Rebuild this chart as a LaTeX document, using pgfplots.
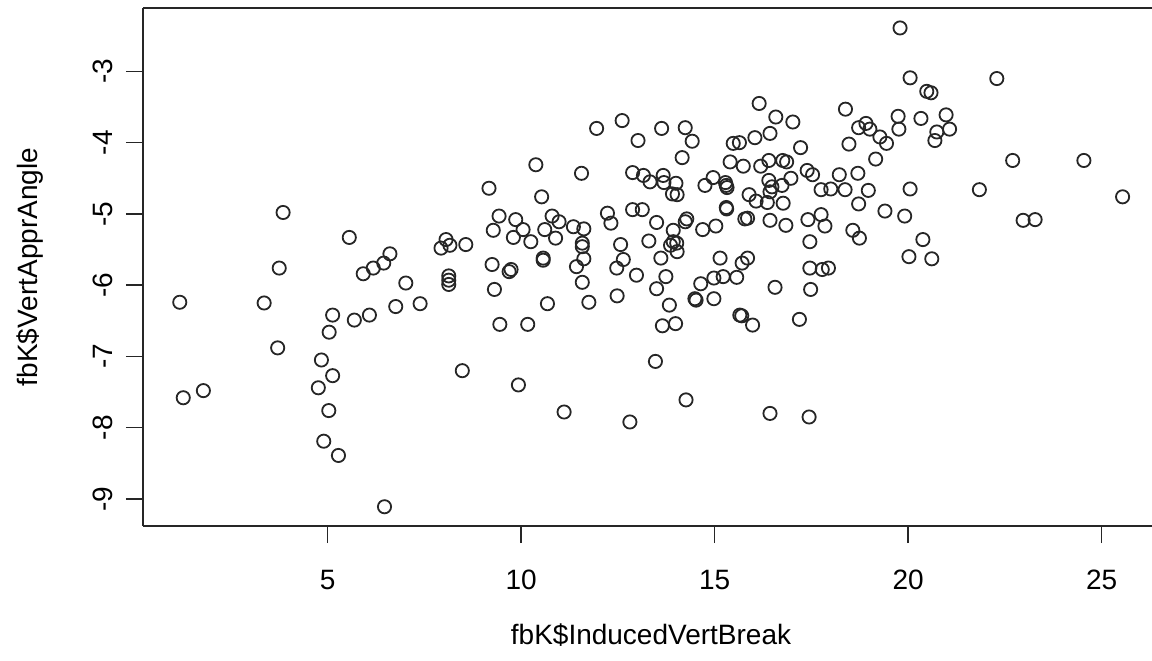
\documentclass[border=0pt]{standalone}
\usepackage{fontspec}
\setmainfont{Liberation Sans}
\usepackage{pgfplots}
\pgfplotsset{compat=1.18}

% fbK$InducedVertBreak vs fbK$VertApprAngle
\pgfplotstableread{
x y
1.18 -6.24
1.27 -7.58
1.79 -7.48
3.36 -6.25
3.71 -6.88
3.75 -5.76
3.85 -4.98
4.76 -7.44
4.84 -7.05
4.90 -8.19
5.03 -7.76
5.04 -6.66
5.13 -6.42
5.13 -7.27
5.28 -8.39
5.56 -5.33
5.69 -6.49
5.92 -5.84
6.08 -6.42
6.18 -5.76
6.45 -5.69
6.47 -9.11
6.61 -5.56
6.76 -6.30
7.02 -5.97
7.39 -6.26
7.93 -5.48
8.06 -5.36
8.13 -5.87
8.13 -5.93
8.13 -5.99
8.16 -5.44
8.48 -7.20
8.57 -5.43
9.17 -4.64
9.25 -5.71
9.28 -5.23
9.31 -6.06
9.43 -5.03
9.45 -6.55
9.69 -5.81
9.74 -5.78
9.80 -5.33
9.86 -5.08
9.93 -7.40
10.05 -5.22
10.17 -6.55
10.25 -5.39
10.38 -4.31
10.53 -4.76
10.57 -5.62
10.57 -5.65
10.61 -5.22
10.68 -6.26
10.80 -5.03
10.89 -5.34
10.98 -5.11
11.11 -7.78
11.35 -5.18
11.43 -5.74
11.56 -4.43
11.58 -5.41
11.58 -5.46
11.58 -5.96
11.62 -5.21
11.62 -5.63
11.75 -6.24
11.95 -3.80
12.23 -4.99
12.32 -5.13
12.47 -5.76
12.48 -6.15
12.57 -5.43
12.61 -3.69
12.64 -5.64
12.81 -7.92
12.88 -4.42
12.88 -4.94
12.98 -5.86
13.02 -3.97
13.13 -4.94
13.16 -4.46
13.30 -5.38
13.33 -4.55
13.47 -7.07
13.50 -5.12
13.50 -6.05
13.61 -5.62
13.63 -3.80
13.65 -6.57
13.67 -4.46
13.69 -4.56
13.74 -5.88
13.83 -6.28
13.86 -5.44
13.91 -4.72
13.93 -5.23
13.93 -5.39
13.99 -6.54
14.00 -4.57
14.02 -5.41
14.03 -5.53
14.03 -4.73
14.16 -4.21
14.24 -3.79
14.24 -5.11
14.26 -7.61
14.28 -5.07
14.42 -3.98
14.49 -6.19
14.52 -6.21
14.64 -5.98
14.69 -5.22
14.75 -4.60
14.96 -4.49
14.98 -5.90
14.98 -6.19
15.03 -5.17
15.14 -5.62
15.22 -5.88
15.28 -4.56
15.30 -4.60
15.32 -4.63
15.30 -4.91
15.31 -4.93
15.40 -4.27
15.48 -4.01
15.57 -5.89
15.64 -4.00
15.65 -6.42
15.70 -6.43
15.71 -5.69
15.74 -4.33
15.78 -5.07
15.85 -5.06
15.85 -5.62
15.89 -4.73
15.98 -6.56
16.04 -3.93
16.07 -4.82
16.15 -3.45
16.19 -4.33
16.36 -4.84
16.40 -4.25
16.40 -4.53
16.43 -3.87
16.43 -4.69
16.43 -5.09
16.43 -7.80
16.48 -4.62
16.56 -6.03
16.58 -3.64
16.74 -4.60
16.76 -4.25
16.77 -4.85
16.84 -5.16
16.86 -4.27
16.97 -4.50
17.02 -3.71
17.19 -6.48
17.22 -4.07
17.39 -4.39
17.41 -5.08
17.44 -7.85
17.46 -5.39
17.46 -5.76
17.48 -6.06
17.53 -4.45
17.75 -4.66
17.75 -5.01
17.78 -5.78
17.85 -5.17
17.94 -5.76
18.00 -4.65
18.22 -4.45
18.37 -4.66
18.38 -3.53
18.47 -4.02
18.57 -5.23
18.70 -4.43
18.72 -3.79
18.72 -4.86
18.74 -5.34
18.91 -3.73
18.97 -4.67
19.01 -3.81
19.16 -4.23
19.27 -3.92
19.40 -4.96
19.44 -4.01
19.74 -3.63
19.76 -3.81
19.79 -2.39
19.91 -5.03
20.02 -5.60
20.05 -3.09
20.05 -4.65
20.33 -3.66
20.38 -5.36
20.48 -3.28
20.59 -3.30
20.61 -5.63
20.69 -3.97
20.74 -3.85
20.98 -3.61
21.07 -3.81
21.84 -4.66
22.29 -3.10
22.70 -4.25
22.97 -5.09
23.28 -5.08
24.54 -4.25
25.54 -4.76
}\fbk

\begin{document}
\begin{tikzpicture}
\begin{axis}[
    scale only axis,
    width=504.5pt, height=259pt,
    xmin=0.23, xmax=26.30,
    ymin=-9.38, ymax=-2.11,
    axis x line*=bottom, axis y line*=left,
    axis line style={line width=0.8pt, black!85},
    tick style={line width=0.8pt, black!85},
    tick align=outside,
    major tick length=8.5pt,
    xtick={5,10,15,20,25},
    ytick={-9,-8,-7,-6,-5,-4,-3},
    font=\fontsize{14}{16}\selectfont,
    /pgf/number format/assume math mode=true,
    xticklabel style={anchor=north, inner sep=0pt},
    yticklabel style={rotate=90, anchor=south, inner sep=0pt},
    xticklabel shift=13.5pt,
    yticklabel shift=6.5pt,
    xlabel={fbK\$InducedVertBreak},
    ylabel={fbK\$VertApprAngle},
    xlabel style={at={(axis description cs:0.5,0)}, anchor=center, yshift=-54.5pt, xshift=1.75pt},
    ylabel style={at={(axis description cs:0,0.5)}, anchor=center, yshift=56.5pt},
]
\addplot[only marks, mark=o, mark size=3.3pt,
    mark options={line width=0.9pt, draw=black!85}] table {\fbk};
\coordinate (bl) at (rel axis cs:0,0);
\coordinate (tr) at (rel axis cs:1,1);
\coordinate (tl) at (rel axis cs:0,1);
\end{axis}
\draw[line width=0.8pt, black!85] (tl) -- (tr);
\pgfresetboundingbox
\path ([shift={(-71.5pt,-67pt)}]bl) rectangle ([shift={(0pt,4pt)}]tr);
\end{tikzpicture}
\end{document}
